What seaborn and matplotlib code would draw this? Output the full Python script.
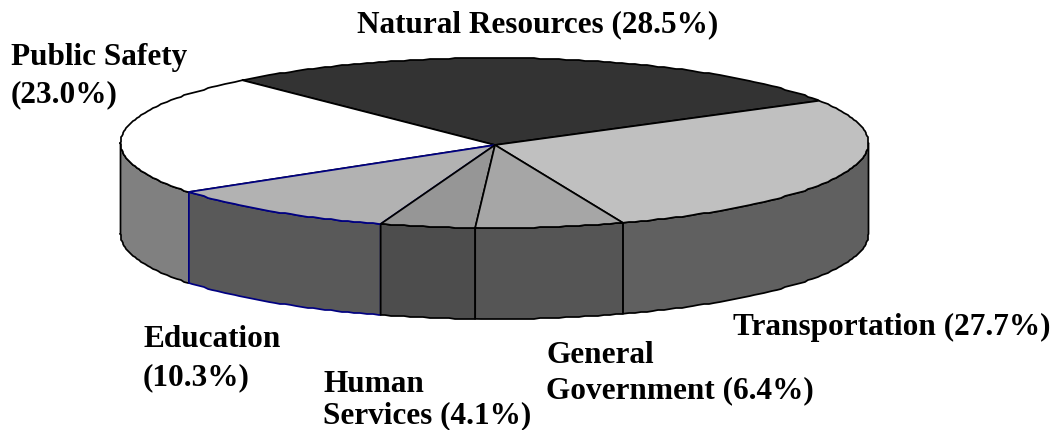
import numpy as np
import matplotlib.pyplot as plt
import seaborn as sns
from matplotlib.patches import Polygon

# Budget shares, drawn so that Education's navy outline sits over Public Safety
categories = ['Natural Resources', 'Transportation', 'Public Safety', 'Education', 'Human Services', 'General Government']
shares = [28.5, 27.7, 23.0, 10.3, 4.1, 6.4]
# clockwise order around the pie
around = ['Natural Resources', 'Transportation', 'General Government', 'Human Services', 'Education', 'Public Safety']

top_colors = ['#333333', '#c0c0c0', '#ffffff', '#b2b2b2', '#969696', '#a6a6a6']
side_colors = ['#333333', '#606060', '#808080', '#595959', '#4d4d4d', '#555555']
edge_colors = ['black', 'black', 'black', '#000080', 'black', 'black']

labels = [
    ('Natural Resources (28.5%)', 357, 32),
    ('Public Safety', 11, 65),
    ('(23.0%)', 11, 102),
    ('Transportation (27.7%)', 733, 335),
    ('General', 546, 363),
    ('Government (6.4%)', 546, 398),
    ('Education', 143, 347),
    ('(10.3%)', 143, 385),
    ('Human', 323, 392),
    ('Services (4.1%)', 323, 423),
]

sns.set_theme(style='white')
plt.rcParams['font.family'] = ['Liberation Serif', 'DejaVu Serif']

# pie geometry in pixels
cx, cy, rx, ry = 494.5, 143, 374, 85
apex = (495, 145)
depth = 91
start = 132.4

fig, ax = plt.subplots(figsize=(10.57, 4.30), dpi=100)
fig.subplots_adjust(0, 0, 1, 1)
ax.set_xlim(0, 1057)
ax.set_ylim(430, 0)
ax.axis('off')


def rim(t0, t1):
    # the reference edge is slightly stepped, so snap the inner points to whole pixels
    inner = np.arange(np.ceil(t1), t0, 1.0)[::-1]
    t = np.radians(np.concatenate([[t0], inner, [t1]]))
    pts = np.column_stack([cx + rx * np.cos(t), cy - ry * np.sin(t)])
    pts[1:-1] = np.round(pts[1:-1])
    return pts


# work out angles from the shares
share_of = dict(zip(categories, shares))
spans = {}
angle = start
for name in around:
    spans[name] = (angle, angle - share_of[name] * 3.6)
    angle -= share_of[name] * 3.6

# side walls first
for i, name in enumerate(categories):
    a0, a1 = spans[name]
    for shift in (0, 360):
        hi = min(a0 + shift, 0)
        lo = max(a1 + shift, -180)
        if hi > lo:
            pts = rim(hi, lo)
            wall = np.vstack([pts, (pts + [0, depth])[::-1]])
            ax.add_patch(Polygon(wall, closed=True, fc=side_colors[i], ec=edge_colors[i], lw=1.25, joinstyle='round'))

# top face
for i, name in enumerate(categories):
    a0, a1 = spans[name]
    top = np.vstack([[apex], rim(a0, a1)])
    ax.add_patch(Polygon(top, closed=True, fc=top_colors[i], ec=edge_colors[i], lw=1.25, joinstyle='round'))

for text, x, y in labels:
    ax.text(x, y, text, fontsize=22.5, fontweight='bold', color='black', ha='left', va='baseline')

fig.savefig('out.png', dpi=100)
